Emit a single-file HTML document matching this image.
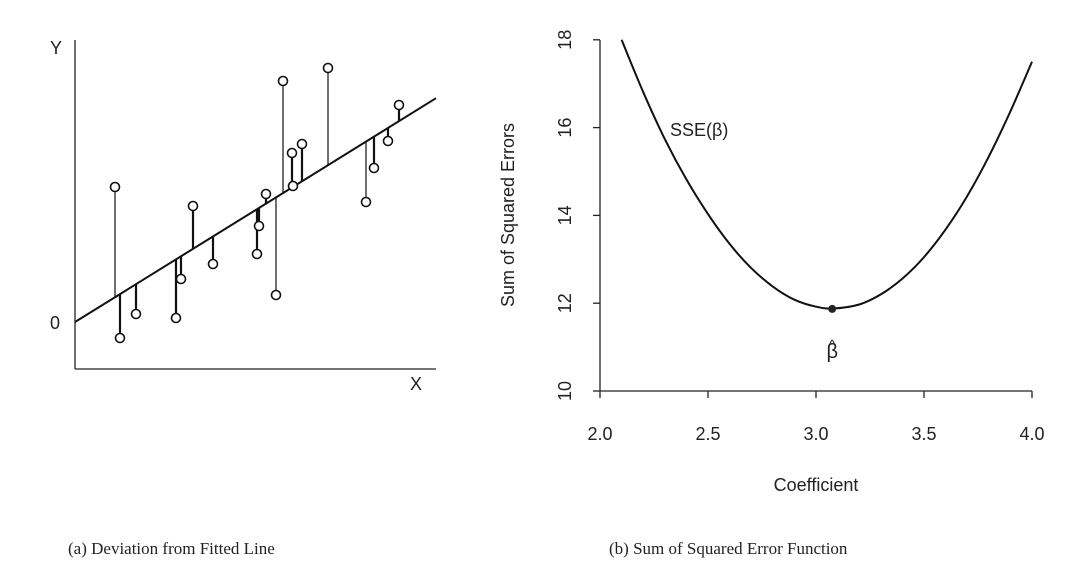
<!DOCTYPE html>
<html><head><meta charset="utf-8"><style>
body{margin:0;background:#fff;width:1084px;height:582px;overflow:hidden}
svg{position:absolute;left:0;top:0}
text{font-family:"Liberation Sans",sans-serif;fill:#222}
.cap{font-family:"Liberation Serif",serif;font-size:17px}
</style></head><body>
<svg id="s" width="1084" height="582">
<g id="left">
<line x1="75" y1="40" x2="75" y2="369" stroke="#222" stroke-width="1.3"/>
<line x1="75" y1="369" x2="436" y2="369" stroke="#222" stroke-width="1.3"/>
<text x="50" y="54" font-size="18">Y</text>
<text x="410" y="390" font-size="18">X</text>
<text x="50" y="329" font-size="18">0</text>
</g>
<g id="right">
<line x1="600" y1="40" x2="600" y2="391" stroke="#222" stroke-width="1.3"/>
<line x1="600" y1="391" x2="1032" y2="391" stroke="#222" stroke-width="1.3"/>
<text x="670" y="136" font-size="18">SSE(β)</text>
<text x="514" y="215" font-size="18" text-anchor="middle" transform="rotate(-90 514 215)">Sum of Squared Errors</text>
<text x="816" y="491" font-size="18" text-anchor="middle">Coefficient</text>
</g>
<text x="68" y="554" class="cap">(a) Deviation from Fitted Line</text>
<text x="609" y="554" class="cap">(b) Sum of Squared Error Function</text>
</svg>
<script>
const NS="http://www.w3.org/2000/svg";
function mk(p,t,a){const e=document.createElementNS(NS,t);for(const k in a)e.setAttribute(k,a[k]);p.appendChild(e);return e;}
const ptX=[40,45,61,101,106,118,138,182,184,191,201,208,217,218,227,253,291,299,313,324];
const ptY=[182,31,55,51,90,163,105,115,143,175,74,288,216,183,225,301,167,201,228,264];
const lineIntercept=47, lineSlope=0.62;
const lx=v=>75+v, ly=v=>369-v;
const L=document.getElementById('left');
const fl=mk(L,'line',{x1:lx(0),y1:ly(lineIntercept),x2:lx(361),y2:ly(lineIntercept+lineSlope*361),stroke:'#111','stroke-width':2});


ptX.forEach((x,i)=>{
 const fy=lineIntercept+lineSlope*x;
 const r=mk(L,'line',{x1:lx(x),y1:ly(fy),x2:lx(x),y2:ly(ptY[i]),stroke:'#111','stroke-width':Math.abs(ptY[i]-fy)<60?2.2:1.2});
 
 
 const c=mk(L,'circle',{cx:lx(x),cy:ly(ptY[i]),r:4.5,fill:'#fff',stroke:'#111','stroke-width':1.6});
 
 
});
const coefVals=[2.1,2.2,2.3,2.4,2.5,2.6,2.7,2.8,2.9,3.0,3.08,3.2,3.3,3.4,3.5,3.6,3.7,3.8,3.9,4.0];
const sseVals=[18.0,16.81,15.74,14.82,14.03,13.35,12.8,12.38,12.08,11.92,11.88,11.97,12.2,12.56,13.05,13.68,14.44,15.34,16.37,17.50];
const xTicks=[2.0,2.5,3.0,3.5,4.0];
const yTicks=[10,12,14,16,18];
const betaHat=3.075, sseMin=11.87;
const sx=v=>600+(v-2)*216, sy=v=>391-(v-10)*43.9;
const R=document.getElementById('right');
xTicks.forEach(t=>{
 const l=mk(R,'line',{x1:sx(t),y1:391,x2:sx(t),y2:398,stroke:'#222','stroke-width':1.3});
 
 
 const tx=mk(R,'text',{x:sx(t),y:440,'font-size':18,'text-anchor':'middle'});tx.textContent=t.toFixed(1);
 
 
});
yTicks.forEach(t=>{
 const l=mk(R,'line',{x1:593,y1:sy(t),x2:600,y2:sy(t),stroke:'#222','stroke-width':1.3});
 
 
 const tx=mk(R,'text',{x:571,y:sy(t),'font-size':18,'text-anchor':'middle',transform:`rotate(-90 571 ${sy(t)})`});tx.textContent=t;
 
 
});
let pts=coefVals.map((c,i)=>[sx(c),sy(sseVals[i])]);
let d='M'+pts[0].join(',');
for(let i=0;i<pts.length-1;i++){const p0=pts[Math.max(0,i-1)],p1=pts[i],p2=pts[i+1],p3=pts[Math.min(pts.length-1,i+2)];
 d+=` C${p1[0]+(p2[0]-p0[0])/6},${p1[1]+(p2[1]-p0[1])/6} ${p2[0]-(p3[0]-p1[0])/6},${p2[1]-(p3[1]-p1[1])/6} ${p2[0]},${p2[1]}`;}
const cv=mk(R,'path',{d:d,fill:'none',stroke:'#111','stroke-width':2});


const mp=mk(R,'circle',{cx:sx(betaHat),cy:sy(sseMin),r:4,fill:'#222'});


const bl=mk(R,'text',{x:sx(betaHat),y:sy(sseMin)+49,'font-size':20,'text-anchor':'middle'});bl.textContent='β';


const hat=mk(R,'text',{x:sx(betaHat),y:sy(sseMin)+41,'font-size':15,'text-anchor':'middle'});hat.textContent='^';


</script>
</body></html>
